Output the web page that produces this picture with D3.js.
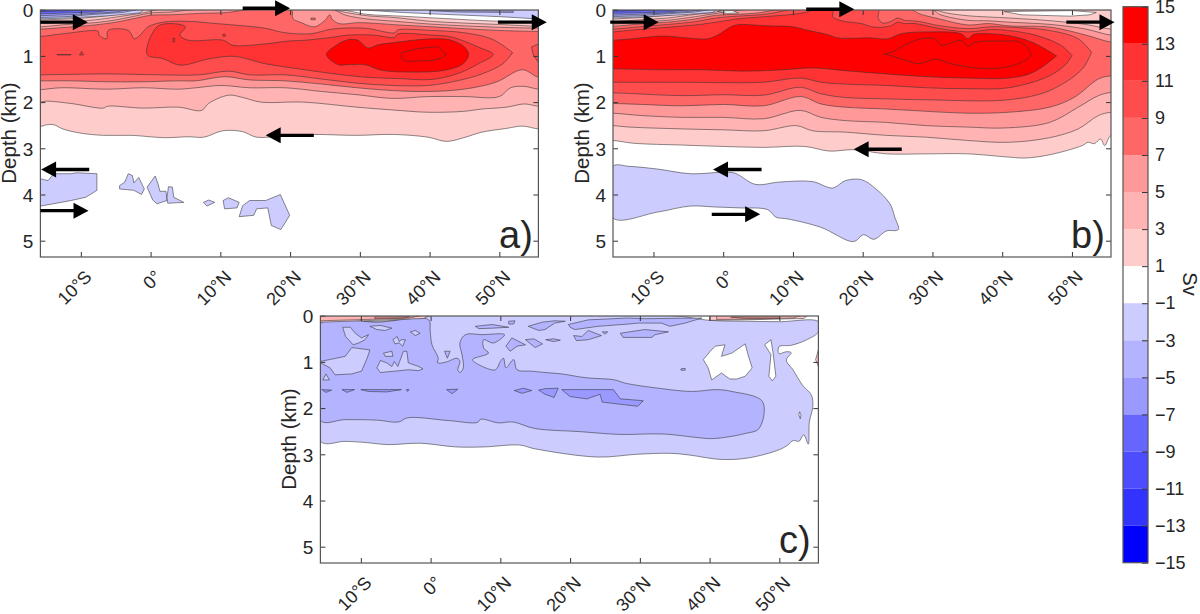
<!DOCTYPE html>
<html>
<head>
<meta charset="utf-8">
<script src="https://cdn.jsdelivr.net/npm/d3@7"></script>
<style>
  html, body { margin: 0; background: #fff; }
  text { font-family: "Liberation Sans", Arial, sans-serif; fill: #262626; }
</style>
</head>
<body>
<svg id="chart" width="1200" height="614"></svg>
<script>
// lat ticks, depth ticks, colour bar
const latTicks = [-10, 0, 10, 20, 30, 40, 50];
const latLabels = ["10°S", "0°", "10°N", "20°N", "30°N", "40°N", "50°N"];
const depthTicks = [0, 1, 2, 3, 4, 5];
const cbEdges = [15, 13, 11, 9, 7, 5, 3, 1, -1, -3, -5, -7, -9, -11, -13, -15];
const cbColors = ["#ff0000", "#ff3333", "#ff4d4d", "#ff6666", "#ff9999", "#ffb3b3", "#ffcccc", "#ffffff",
  "#ccccff", "#b3b3ff", "#9999ff", "#6666ff", "#4d4dff", "#3333ff", "#0000ff"];

// contours are [lat, depth km]
// panel a
const aUp1 = [[-15.8,.22],[-12,.2],[-8,.16],[-4,.08],[-2,0],[27,0],[31,.1],[36,.14],[42,.19],[50,.25],[55.6,.26]];
const aLow1 = [[-15.8,2.53],[-14.9,2.49],[-13.9,2.49],[-12.6,2.58],[-10.1,2.67],[-6.75,2.72],[-2.7,2.72],[1.9,2.77],[5.5,2.75],[7.6,2.76],[10.4,2.62],[13.2,2.64],[15.2,2.76],[19.3,2.72],[23.4,2.7],[29.6,2.72],[34.7,2.7],[39.8,2.76],[42.4,2.85],[44.9,2.77],[47.5,2.65],[51,2.57],[53.3,2.52],[55.6,2.58]];
const aUp3 = [[-15.8,.3],[-12,.27],[-8,.22],[-5,.16],[-2,.09],[-.5,.05],[1,0],[26,0],[28,.06],[31,.13],[35,.17],[40,.25],[45,.29],[50,.32],[55.6,.36]];
const aLow3 = [[-15.8,2],[-14.9,1.98],[-11.4,2.03],[-6.75,2.13],[-6.2,2.09],[-1.1,2.13],[4,2.11],[7.3,2.18],[8.3,2.03],[11.2,1.85],[13.2,1.9],[15.8,2],[21.9,2],[29.6,2.11],[34.7,2.17],[39.8,2.22],[44.9,2.2],[47.5,2.15],[51,2.11],[53.6,2.04],[55.6,2.09]];
const aUp5 = [[-15.8,.37],[-12,.32],[-8,.28],[-5,.22],[-2,.13],[0,.07],[3,.05],[6,0],[26,0],[28,.12],[31,.2],[35,.25],[40,.31],[45,.35],[50,.38],[55.6,.4]];
const aLow5 = [[-15.8,1.73],[-12.9,1.69],[-6.2,1.72],[-1.1,1.69],[4,1.72],[6.5,1.69],[10.1,1.64],[14.2,1.69],[19.3,1.69],[24.5,1.77],[29.6,1.84],[34.7,1.92],[39.8,1.88],[44.9,1.88],[50,1.88],[51.6,1.69],[53.6,1.66],[55.6,1.72]];
const aUp7 = [[-15.8,.42],[-12,.38],[-8,.33],[-5,.27],[-2,.18],[0,.12],[3,.11],[7,.08],[11,.06],[14,0],[20.2,0],[20.4,.19],[21.6,.28],[23.5,.37],[25,.23],[25.7,.11],[26,.2],[27,.3],[30,.28],[35.5,.33],[40.3,.37],[45,.41],[50,.45],[55.6,.47]];
const aLow7 = [[-15.8,1.54],[-11.4,1.54],[-6.2,1.56],[-1.1,1.56],[4,1.54],[6.5,1.54],[10.6,1.45],[14.2,1.52],[19.3,1.54],[24.5,1.61],[29.6,1.69],[34.7,1.75],[39.8,1.77],[44.9,1.72],[49.5,1.57],[53.3,1.3],[55.6,1.46]];
const aUp9 = [[-15.8,.58],[-12.5,.52],[-7.5,.47],[-7.4,.55],[-6.3,.63],[-6.1,.45],[-3.2,.45],[-2.3,.63],[-1.5,.55],[-.35,.37],[1.8,.27],[5.1,.25],[9.4,.3],[13.3,.35],[16.4,.4],[19.3,.5],[23,.52],[26,.42],[30.7,.4],[35,.5],[35.4,.44],[40.3,.45],[45,.5],[49,.64],[51.9,.93]];
const aLow9 = [[-15.8,1.41],[-6.2,1.39],[1.4,1.41],[7,1.41],[11.2,1.33],[14.2,1.41],[19.3,1.41],[24.5,1.5],[29.6,1.59],[34.7,1.64],[39.8,1.64],[43.9,1.54],[47.5,1.39],[50.5,1.17],[51.9,.93]];
const aEdge9 = [[55.6,.74],[54.6,.81],[54.9,.99],[55.6,1.14]];
const aLobe11 = [[-.5,.97],[1.1,.35],[5,.37],[4.2,.55],[5.4,.66],[10.4,.66],[11.8,.77],[16.4,.74],[19.7,.68],[22.2,.66],[25.9,.6],[28.3,.55],[32,.55],[35,.6],[35.4,.53],[40.3,.55],[43.1,.59],[47,.81],[49.1,.97],[47,1.17],[44.1,1.38],[40.3,1.51],[35.5,1.49],[30.7,1.46],[25.9,1.38],[21.2,1.28],[16.4,1.17],[12.1,1.01],[8.5,1.06],[4.2,1.2],[1.8,1.06]];
const aSpeck11a = [[10.3,.54],[10.6,.52],[10.8,.56],[10.5,.59]];
const aSpeck11b = [[3.2,.62],[3.5,.62],[3.4,.7],[3.2,.7]];
const aSpeck11c = [[-10.2,.98],[-9.9,.9],[-9.6,.98]];
const aSpeck11d = [[-13.4,.97],[-11.4,.97],[-11.4,.98],[-13.4,.98]];
const aSpeck7 = [[23,.18],[23.6,.18],[23.6,.22],[23,.22]];
const aBlob13 = [[25.2,.97],[26.4,.79],[28.3,.65],[29.7,.66],[31.2,.83],[32.6,.76],[35,.71],[40.3,.63],[43.1,.66],[45,.81],[45.6,.97],[44.8,1.17],[42.2,1.31],[37.9,1.35],[33.1,1.31],[30.7,1.19],[28.3,1.19],[26.9,1.19]];
const aBlob15 = [[35.9,.99],[36.2,.92],[38.4,.84],[41.2,.8],[41.7,.88],[42.4,.97],[41.5,1.06],[40.3,1.1],[36.7,1.12],[36,1.06]];
const aTopNeg1 = [[-15.8,0],[-1,0],[-1.5,.07],[-6,.13],[-12,.18],[-15.8,.2]];
const aTopNeg3 = [[-15.8,0],[-2,0],[-4,.06],[-8,.1],[-12,.15],[-15.8,.17]];
const aTopNeg5 = [[-15.8,0],[-3,0],[-5,.05],[-9,.09],[-15.8,.13]];
const aTopNeg7 = [[-15.8,0],[-5,0],[-8,.05],[-15.8,.09]];
const aTopNeg9 = [[-15.8,0],[-9,0],[-12,.025],[-15.8,.04]];
const aRightNeg1 = [[30,0],[55.6,0],[55.6,.2],[50,.15],[42,.1],[36,.06]];
const aRightNeg3 = [[40,.02],[52,.03],[52,.06],[44,.05]];
const aDeep1 = [[-15.8,3.66],[-14.7,3.7],[-13.9,3.55],[-11.4,3.55],[-10.6,3.53],[-7.7,3.55],[-7.7,3.91],[-9.3,4.06],[-11.4,4.13],[-13.9,4.2],[-15.8,4.25]];
const aDeep2 = [[-4.45,3.81],[-3.7,3.73],[-3.2,3.55],[-2.6,3.59],[-2.4,3.75],[-1.7,3.63],[-.9,3.88],[-1.3,4],[-2.4,3.91],[-4.45,3.88]];
const aDeep3 = [[-.5,3.84],[.66,3.6],[1.07,3.77],[1.33,3.93],[2.2,3.93],[2.35,4.13],[.92,4.2],[.3,4.12]];
const aDeep4 = [[2.35,4.06],[2.56,3.83],[3.12,3.84],[3.32,4.06],[4.76,4.17],[2.46,4.19]];
const aDeep5 = [[7.57,4.17],[8.34,4.12],[9.2,4.17],[8.08,4.25]];
const aDeep6 = [[10.4,4.13],[11.15,4.07],[12.7,4.17],[12.4,4.29],[10.6,4.31]];
const aDeep7 = [[12.7,4.48],[13.2,4.24],[14.2,4.13],[16.5,4.13],[18.6,4],[19.95,4.45],[18.67,4.76],[17.3,4.67],[16.8,4.29],[15.2,4.31],[14.8,4.45]];

// panel b
const bUp1 = [[-15.8,.2],[-12,.17],[-8,.12],[-4,.06],[-2,0],[55.6,0]];
const bLow1 = [[-15.8,2.83],[-12.9,2.89],[-5.9,2.93],[0,2.96],[5.8,2.98],[11.7,2.96],[15.2,3.06],[18.7,3.03],[23.4,3.12],[29.2,3.12],[35,3.12],[40.9,3.19],[43.3,3.21],[46.8,3.14],[51.5,2.94],[52.3,2.87],[53.2,2.9],[54.1,2.8],[54.7,2.94],[55.6,2.72]];
const bUp3 = [[-15.8,.26],[-12,.22],[-8,.18],[-4,.1],[-1,.05],[0,0],[30,0],[32,.07],[35,.13],[41,.18],[47,.24],[52,.32],[55.6,.42]];
const bLow3 = [[-15.8,2.51],[-13.5,2.54],[-5.9,2.58],[0,2.6],[5.8,2.62],[10.5,2.51],[12.8,2.62],[17.5,2.65],[23.4,2.72],[29.2,2.76],[35,2.83],[40.9,2.87],[46.8,2.77],[50.9,2.58],[53.8,2.29],[55.6,2.22]];
const bUp5 = [[-15.8,.31],[-12,.27],[-8,.23],[-4,.15],[-1,.08],[1,.04],[3,0],[30,0],[31,.1],[35.1,.23],[38,.24],[41,.27],[47,.32],[52,.42],[55.6,.55]];
const bLow5 = [[-15.8,2.24],[-11.8,2.29],[-5.9,2.33],[0,2.33],[5.8,2.36],[11.1,2.18],[14,2.33],[17.5,2.4],[23.4,2.44],[29.2,2.51],[35,2.54],[40.3,2.56],[46.8,2.44],[50.9,2.11],[53.8,1.86],[55.6,1.79]];
const bUp7 = [[-15.8,.36],[-12,.31],[-8,.27],[-4,.2],[-1,.12],[2,.1],[5,.07],[8,0],[27,0],[28,.08],[31,.2],[35.1,.33],[38,.3],[41,.35],[47,.38],[52,.55],[55.6,.7]];
const bLow7 = [[-15.8,2.03],[-11.8,2.05],[-5.9,2.08],[0,2.05],[5.8,2.08],[11.1,1.88],[14,2.04],[17.5,2.11],[23.4,2.15],[29.2,2.2],[35,2.24],[40.9,2.22],[46.8,2.11],[50.3,1.9],[53.8,1.5],[55.6,1.43]];
const bUp9 = [[-15.8,.42],[-12,.37],[-8,.32],[-4,.26],[-1,.18],[2,.14],[6,.1],[10,0],[22.2,0],[22.2,.18],[22.9,.29],[24.1,.25],[25,.18],[26,.23],[27.9,.25],[30.8,.34],[35.1,.41],[38.4,.37],[41.3,.38],[46.8,.45],[50.9,.63],[52.8,.92]];
const bLow9 = [[-15.8,1.8],[-5.9,1.86],[0,1.84],[5.8,1.85],[11.1,1.68],[14,1.82],[17.5,1.9],[23.4,1.93],[29.2,1.95],[40.9,1.95],[46.8,1.75],[51.5,1.28],[52.8,.92]];
const bUp11 = [[-15.8,.48],[-13,.44],[-8,.38],[-3.4,.32],[-.2,.25],[2,.2],[6,.15],[10,.1],[12,.05],[13,0],[15.7,0],[15.7,.15],[17,.24],[19.8,.3],[21.7,.38],[24,.35],[25,.27],[26,.3],[27.5,.3],[30.8,.4],[35.1,.48],[38.4,.43],[40.9,.45],[45,.56],[48.5,.78],[50,.99]];
const bLow11 = [[-15.8,1.57],[-5.9,1.57],[0,1.58],[5.8,1.57],[11.1,1.48],[14,1.57],[17.5,1.61],[23.4,1.64],[29.2,1.69],[35,1.71],[40.9,1.69],[46.8,1.43],[49.2,1.17],[50,.99]];
const bUp13 = [[-15.8,.66],[-13,.63],[-8.7,.57],[-5.3,.61],[-2.2,.63],[-.8,.55],[1.4,.35],[2.8,.32],[6.2,.35],[10,.37],[11.9,.44],[15,.54],[16.4,.61],[21.2,.61],[23.6,.63],[25.5,.52],[29.8,.48],[34.1,.52],[35.1,.63],[35.8,.54],[38,.52],[40.9,.56],[44.4,.71],[47.8,1]];
const bLow13 = [[-15.8,1.28],[-8.8,1.3],[-3,1.3],[2.9,1.33],[8.7,1.3],[12.8,1.26],[17.5,1.32],[23.4,1.39],[29.2,1.45],[35,1.48],[40.9,1.48],[44.4,1.36],[47.8,1]];
const bBlob15 = [[23,.97],[24.8,.88],[25.5,.81],[27,.7],[28.4,.63],[30.3,.63],[31.3,.77],[34.1,.66],[35.1,.79],[36,.71],[39.9,.68],[42.7,.71],[44.1,.97],[42.7,1.14],[40.3,1.25],[36.8,1.27],[32.7,1.17],[30.4,1.07],[28,1.17],[26.3,1.1],[23.4,.97]];
const bLens = [[40.3,.04],[42.7,.11],[49.7,.14],[52.6,.11],[53.5,.06],[50,.02]];
const bSpot = [[-.8,.03],[1.3,.02],[2.2,.07],[.5,.08]];
const bTopNeg1 = [[-15.8,0],[-1,0],[-1.5,.06],[-6,.11],[-12,.16],[-15.8,.18]];
const bTopNeg3 = [[-15.8,0],[-2,0],[-4,.05],[-8,.09],[-12,.13],[-15.8,.15]];
const bTopNeg5 = [[-15.8,0],[-3,0],[-5,.04],[-9,.08],[-15.8,.12]];
const bTopNeg7 = [[-15.8,0],[-5,0],[-8,.05],[-15.8,.08]];
const bTopNeg9 = [[-15.8,0],[-9,0],[-12,.02],[-15.8,.035]];
const bDeep1 = [[-15.8,3.39],[-13.5,3.39],[-9.4,3.45],[-4.7,3.55],[-.06,3.52],[1.7,3.54],[4.6,3.78],[8.1,3.73],[12.8,3.72],[15.7,3.86],[17.5,3.7],[19.85,3.68],[21.9,3.88],[23.9,4.2],[24.6,4.49],[25.1,4.76],[23.4,4.79],[21.6,4.97],[20.1,4.87],[18.7,5.02],[14,4.71],[9.3,4.53],[7.55,4.49],[6.4,4.33],[2.3,4.29],[-1.2,4.27],[-4.7,4.25],[-9.4,4.38],[-15.8,4.51]];

// panel c
const cOuter1 = [[-15.8,.15],[-10,.13],[-3,.08],[0,0],[34.8,0],[40,.1],[45,.12],[50,.13],[55.6,.13],[55.6,.35],[53.8,.53],[51.7,.64],[49.95,.67],[49.95,.82],[51,.78],[51.7,.8],[51,.96],[52,1.18],[53.3,1.5],[54.6,1.72],[54.8,1.97],[54.3,2.3],[54.15,2.78],[53.5,2.58],[52.8,2.72],[52,2.7],[51.2,2.8],[50,2.9],[45.5,3.08],[41.5,3.11],[37.3,3.02],[34.6,2.98],[29.5,3],[24,3.06],[14.9,2.88],[12.8,2.8],[7.7,2.84],[3.6,2.84],[-1.5,2.76],[-6.1,2.79],[-9.7,2.74],[-12.3,2.72],[-15.8,2.72]];
const cWhite1 = [[39.1,.95],[40.1,.77],[40.8,.66],[42.2,.63],[41.7,.88],[43.2,.81],[45.1,.61],[45.5,.84],[46.1,1.13],[45.1,1.31],[43.9,1.37],[42.9,1.37],[41.7,1.24],[40.3,1.39],[39.8,1.13]];
const cWhite2 = [[47.9,.63],[48.8,.52],[49.1,.81],[49.5,1.31],[49,1.41],[48.5,1.31],[48.8,.84]];
const cWhite3 = [[52.9,2.08],[53.1,2.14],[53,2.23],[52.8,2.15]];
const cMain3 = [[-15.8,.18],[-7.5,.14],[-.3,.09],[-.06,.34],[.2,.63],[1.1,.92],[1,1.02],[2.3,1],[3.8,.92],[4.2,.99],[3.9,1.17],[4.2,1.23],[4.7,1.13],[4.5,.84],[4.2,.59],[5,.41],[7.35,.41],[10.6,.41],[9,.59],[7.6,.52],[7.6,.7],[8.3,.81],[6,.95],[6.9,1.06],[9.3,1.17],[10,.99],[10.45,.92],[10.8,1.13],[11.9,.95],[12.4,1.17],[14.5,1.2],[16.4,1.23],[18.8,1.26],[22.1,1.34],[26.4,1.39],[27.9,1.46],[32.7,1.57],[37.4,1.64],[41,1.6],[43.2,1.64],[47.6,1.86],[47.1,2.44],[45.1,2.55],[40.5,2.66],[38.4,2.64],[33.3,2.56],[27.2,2.57],[21.5,2.51],[14.9,2.44],[11.8,2.3],[9.7,2.32],[7.2,2.24],[6.7,2.31],[2.6,2.27],[-3.3,2.21],[-4.6,2.3],[-7.7,2.26],[-12.3,2.25],[-15.8,2.27]];
const cHole1 = [[-12.6,.25],[-11.5,.25],[-10.8,.38],[-9.9,.48],[-8.9,.41],[-9.4,.52],[-10.3,.59],[-11.1,.63],[-12.2,.45]];
const cHole2 = [[-15.8,.99],[-12.25,.88],[-11.3,.69],[-8.7,.74],[-9.1,.92],[-9.9,1.2],[-11.3,1.26],[-13.7,1.28],[-14.4,1.13],[-15.8,1.02]];
const cHole3 = [[-6.75,.81],[-5.56,.77],[-5.4,.88],[-6.5,.88]];
const cHole4 = [[-7.7,1.13],[-7.2,.97],[-6.3,1.02],[-5.56,1.1],[-5.2,.99],[-4.7,1.1],[-3.9,.77],[-3.4,.77],[-3.2,1.02],[-1.7,1.1],[-1.1,1.15],[-1.7,1.19],[-3.2,1.17],[-5.1,1.2],[-7.2,1.23]];
const cHole5 = [[-8.7,.23],[-7.2,.21],[-5.56,.27],[-6.5,.32],[-7.7,.3]];
const cHole6 = [[-2.9,.35],[-2.2,.32],[-1.5,.38],[-2.2,.43]];
const cHole7 = [[-5.4,.52],[-4.8,.45],[-4.5,.56],[-4.2,.52],[-3.6,.52],[-4,.66],[-4.5,.59],[-5.1,.61]];
const cHole8 = [[-15.45,1.39],[-15,1.26],[-14.5,1.39]];
const cIsle1 = [[2,.77],[2.8,.77],[2.4,.92]];
const cIsle3 = [[10.8,.66],[11.65,.48],[13.6,.63],[12.4,.66],[11.4,.77]];
const cIsle4 = [[13.6,.52],[14.8,.5],[16.05,.61],[15,.69]];
const cIsle5 = [[6.4,.23],[8.8,.19],[11.2,.25],[8.8,.27],[6.9,.28]];
const cIsle6 = [[11.2,.12],[12.1,.11],[11.9,.18],[11.2,.18]];
const cIsle7 = [[14,.23],[16,.14],[17.8,.11],[19.3,.12],[17.8,.16],[16.4,.3],[15.5,.32]];
const cIsle7b = [[19.75,.19],[22.6,.09],[28.4,.05],[30.7,.065],[38.9,.05],[36.5,.16],[34.3,.23],[33.1,.16],[29.8,.16],[28.4,.18],[24,.23],[20.7,.3],[20,.25]];
const cIsle8 = [[20.5,.43],[21.7,.45],[22.6,.32],[24.5,.43],[22.6,.52],[20.9,.54]];
const cIsle9 = [[27.2,.38],[30.7,.3],[34.1,.35],[32.2,.41],[31.7,.47],[27.6,.47]];
const cIsle10 = [[16.5,.52],[17.6,.5],[18.6,.53],[17.6,.56]];
const cIsle11 = [[24.6,.35],[25.4,.35],[25,.4]];
const cIsle12 = [[35.9,1.15],[36.5,1.14],[36.5,1.18],[35.9,1.18]];
const cDeep5a = [[-15.6,1.6],[-14.2,1.61],[-15,1.66]];
const cDeep5b = [[-12.7,1.6],[-10.9,1.6],[-12,1.66]];
const cDeep5c = [[-10,1.6],[-4.2,1.6],[-6.3,1.65],[-8.9,1.64]];
const cDeep5d = [[-3.5,1.6],[-3.1,1.6],[-3.3,1.64]];
const cDeep5e = [[2.3,1.6],[3.9,1.59],[3.1,1.69]];
const cDeep5f = [[12,1.62],[13.3,1.57],[14.5,1.62],[13.1,1.68]];
const cDeep5g = [[15.5,1.61],[16.4,1.58],[18.3,1.57],[17.7,1.77],[16.4,1.7]];
const cDeep5h = [[18.8,1.6],[26.2,1.6],[27.2,1.8],[30.5,1.84],[29.7,1.96],[24.6,1.87],[24.3,1.7],[22.4,1.8],[20,1.75]];
const cPinkLeft = [[-15.8,0],[-.2,0],[-1,.06],[-8,.1],[-15.8,.14]];
const cPinkLeft3 = [[-15.8,0],[-1.5,0],[-3,.05],[-9,.08],[-15.8,.11]];
const cPinkLeft5 = [[-8,.03],[-3,.025],[-4,.05],[-8,.065]];
const cPinkRight = [[40,0],[54,0],[53.5,.06],[45,.09],[40,.1]];
const cPinkRight3 = [[41,0],[53,0],[52,.05],[45,.075],[41,.08]];
const cPinkRight5 = [[43,.03],[50,.03],[50,.06],[45,.06]];
const cPinkEdge = [[55.6,.74],[55.2,.95],[55.6,1.1]];

// band between two contours; bands that reach the frame run on past it
const pad = s => {
  const out = s.slice(), a = s[0], b = s[s.length - 1];
  if (a[0] === -15.8) out.unshift([-18, a[1]]);
  if (b[0] === 55.6) out.push([58, b[1]]);
  return out;
};
const band = (up, low) => pad(up).concat(pad(low).reverse());

// [level, ring] in paint order
const panelA = [
  [1, band(aUp1, aLow1)], [3, band(aUp3, aLow3)], [5, band(aUp5, aLow5)], [7, band(aUp7, aLow7)],
  [9, band(aUp9, aLow9)], [9, aEdge9], [7, aSpeck7],
  [11, aLobe11], [11, aSpeck11a], [11, aSpeck11b], [11, aSpeck11c], [11, aSpeck11d],
  [13, aBlob13], [15, aBlob15],
  [-1, aTopNeg1], [-3, aTopNeg3], [-5, aTopNeg5], [-7, aTopNeg7], [-9, aTopNeg9], [-1, aRightNeg1], [-3, aRightNeg3],
  [-1, aDeep1], [-1, aDeep2], [-1, aDeep3], [-1, aDeep4], [-1, aDeep5], [-1, aDeep6], [-1, aDeep7]
];
const panelB = [
  [1, band(bUp1, bLow1)], [0, bLens], [3, band(bUp3, bLow3)], [5, band(bUp5, bLow5)], [7, band(bUp7, bLow7)],
  [9, band(bUp9, bLow9)], [11, band(bUp11, bLow11)], [13, band(bUp13, bLow13)], [15, bBlob15],
  [-1, bTopNeg1], [-3, bTopNeg3], [-5, bTopNeg5], [-7, bTopNeg7], [-9, bTopNeg9], [0, bSpot], [-1, bDeep1]
];
const panelC = [
  [-1, cOuter1], [0, cWhite1], [0, cWhite2], [0, cWhite3],
  [-3, cMain3], [-1, cHole1], [-1, cHole2], [-1, cHole3], [-1, cHole4], [-1, cHole5], [-1, cHole6], [-1, cHole7], [-1, cHole8],
  [-3, cIsle1], [-3, cIsle3], [-3, cIsle4], [-3, cIsle5], [-3, cIsle6], [-3, cIsle7], [-3, cIsle7b], [-3, cIsle8], [-3, cIsle9], [-3, cIsle10], [-3, cIsle11], [-3, cIsle12],
  [-5, cDeep5a], [-5, cDeep5b], [-5, cDeep5c], [-5, cDeep5d], [-5, cDeep5e], [-5, cDeep5f], [-5, cDeep5g], [-5, cDeep5h],
  [1, cPinkLeft], [3, cPinkLeft3], [5, cPinkLeft5], [1, cPinkRight], [3, cPinkRight3], [5, cPinkRight5], [1, cPinkEdge]
];

// flow arrows: from lat, to lat, depth
const arrowsA = [[-15.8,-9,.27],[13.2,20,-.03],[49.8,56.8,.27],[23.4,16.5,2.72],[-8.8,-15.7,3.46],[-15.8,-8.9,4.35]];
const arrowsB = [[-16.2,-9.25,.27],[11.9,18.8,-.01],[49.2,56.1,.27],[25.6,18.7,3.02],[5.5,-1.46,3.46],[-1.64,5.3,4.43]];

const levelColor = d3.scaleOrdinal()
  .domain([15, 13, 11, 9, 7, 5, 3, 1, 0, -1, -3, -5, -7, -9, -11, -13])
  .range(["#ff0000"].concat(cbColors));

const svg = d3.select("#chart");

function drawPanel(id, left, top, rings, arrows, label, labelPos) {
  const right = left + 498, bottom = top + 247;
  const x = d3.scaleLinear().domain([-15.8, 55.6]).range([left, right]);
  const y = d3.scaleLinear().domain([0, 5]).range([top - .3, top + 230.7]);

  const clip = svg.append("clipPath").attr("id", "clip" + id);
  clip.append("rect").attr("x", left).attr("y", top).attr("width", right - left).attr("height", bottom - top);

  // long contours are smoothed, the small patches stay angular
  const line = d3.line().x(d => x(d[0])).y(d => y(d[1]));
  const smooth = d3.line().x(d => x(d[0])).y(d => y(d[1])).curve(d3.curveCatmullRomClosed.alpha(.5));
  svg.append("g").attr("clip-path", `url(#clip${id})`)
    .selectAll("path")
    .data(rings)
    .join("path")
    .attr("d", d => d[1].length >= 16 ? smooth(d[1]) : line(d[1]) + "Z")
    .attr("fill", d => levelColor(d[0]))
    .attr("stroke", "#333")
    .attr("stroke-opacity", .8)
    .attr("stroke-width", .7);

  // ticks point inwards on all four sides
  const tick = (axis, tx, ty) => {
    const g = svg.append("g").attr("transform", `translate(${tx},${ty})`).call(axis);
    g.select(".domain").remove();
    g.selectAll("line").attr("stroke", "#333").attr("stroke-width", 1);
    return g;
  };
  tick(d3.axisTop(x).tickValues(latTicks).tickSize(-5).tickFormat(""), 0, top);
  tick(d3.axisRight(y).tickValues(depthTicks.slice(1)).tickSize(-5).tickFormat(""), right, 0);

  const bx = tick(d3.axisBottom(x).tickValues(latTicks).tickSize(-5).tickFormat((d, i) => latLabels[i]), 0, bottom);
  bx.selectAll("text")
    .attr("font-family", "Liberation Sans, Arial, sans-serif")
    .attr("font-size", 18)
    .attr("text-anchor", "end")
    .attr("dy", 0)
    .attr("transform", "translate(11.5,21) rotate(-45)")
    .attr("y", 0).attr("x", 0);

  const ly = tick(d3.axisLeft(y).tickValues(depthTicks).tickSize(-5).tickFormat(d3.format("d")), left, 0);
  ly.selectAll("text")
    .attr("font-family", "Liberation Sans, Arial, sans-serif")
    .attr("font-size", 19)
    .attr("x", -7)
    .attr("dy", ".36em");

  svg.append("rect")
    .attr("x", left).attr("y", top).attr("width", right - left).attr("height", bottom - top)
    .attr("fill", "none").attr("stroke", "#555").attr("stroke-width", 1.2);

  svg.append("text")
    .attr("transform", `translate(${left - 24},${top + 123}) rotate(-90)`)
    .attr("text-anchor", "middle")
    .attr("font-size", 20.5)
    .text("Depth (km)");

  svg.append("text")
    .attr("x", labelPos[0]).attr("y", labelPos[1])
    .attr("font-size", 38)
    .text(label);

  // arrows
  arrows.forEach(a => {
    const dir = a[1] > a[0] ? 1 : -1;
    const x1 = x(a[1]), y0 = y(a[2]);
    svg.append("path")
      .attr("d", d3.line()([[x(a[0]), y0 - 1.7], [x1 - dir * 15, y0 - 1.7], [x1 - dir * 15, y0 - 8], [x1, y0], [x1 - dir * 15, y0 + 8], [x1 - dir * 15, y0 + 1.7], [x(a[0]), y0 + 1.7]]) + "Z")
      .attr("fill", "#000");
  });
}

drawPanel("a", 40.4, 10, panelA, arrowsA, "a)", [499, 248]);
drawPanel("b", 613, 10, panelB, arrowsB, "b)", [1071, 248]);
drawPanel("c", 320.4, 316, panelC, [], "c)", [779, 553]);

// colour bar
const cb = d3.scaleLinear().domain([15, -15]).range([6.7, 562.7]);
svg.append("g").selectAll("rect")
  .data(cbColors)
  .join("rect")
  .attr("x", 1123)
  .attr("width", 25)
  .attr("y", (d, i) => cb(cbEdges[i]))
  .attr("height", (d, i) => cb(cbEdges[i + 1]) - cb(cbEdges[i]))
  .attr("fill", d => d);

const cbAxis = svg.append("g").attr("transform", "translate(1148,0)")
  .call(d3.axisRight(cb).tickValues(cbEdges).tickSize(-6).tickPadding(7).tickFormat(d3.format("d")));
cbAxis.select(".domain").remove();
cbAxis.selectAll("line").attr("stroke", "#333");
cbAxis.selectAll("text").attr("font-family", "Liberation Sans, Arial, sans-serif").attr("font-size", 18).attr("fill", "#262626");

svg.append("rect")
  .attr("x", 1123).attr("y", 6.7).attr("width", 25).attr("height", 556)
  .attr("fill", "none").attr("stroke", "#555").attr("stroke-width", 1.2);

svg.append("text")
  .attr("transform", "translate(1183,284) rotate(90)")
  .attr("text-anchor", "middle")
  .attr("font-size", 20)
  .text("Sv");
</script>
</body>
</html>
